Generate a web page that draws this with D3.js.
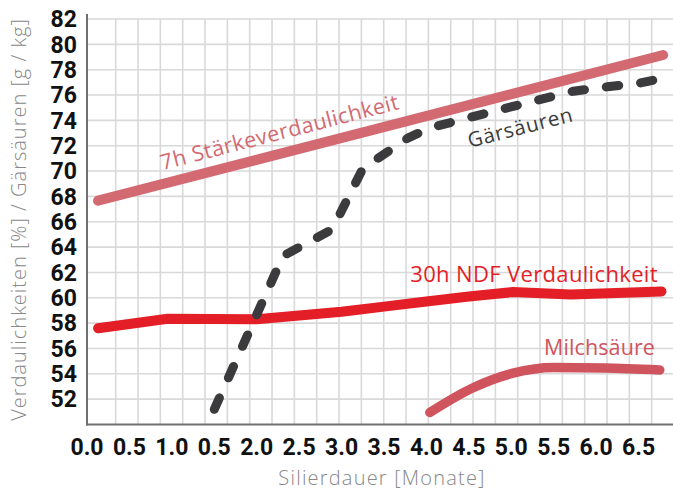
<!DOCTYPE html>
<html>
<head>
<meta charset="utf-8">
<script src="https://cdn.jsdelivr.net/npm/d3@7"></script>
<style>
  html, body { margin: 0; padding: 0; background: #fff; }
  svg { display: block; }
</style>
</head>
<body>
<svg id="chart" width="673" height="490"></svg>
<script>
// ---------- data ----------
const xTickValues = [0, 0.5, 1, 1.5, 2, 2.5, 3, 3.5, 4, 4.5, 5, 5.5, 6, 6.5];
const xTickLabels = ["0.0", "0.5", "1.0", "0.5", "2.0", "2.5", "3.0", "3.5", "4.0", "4.5", "5.0", "5.5", "6.0", "6.5"];
const yTickValues = [52, 54, 56, 58, 60, 62, 64, 66, 68, 70, 72, 74, 76, 78, 80, 82];

const seriesNames = ["7h Stärkeverdaulichkeit", "Gärsäuren", "30h NDF Verdaulichkeit", "Milchsäure"];

// [Silierdauer (Monate), Wert]
const staerke = [[0.13, 67.66], [6.79, 79.16]];
const gaersaeuren = [
  [1.50, 51.2], [2.31, 63.3], [2.89, 65.4], [3.25, 70.2], [3.78, 72.6], [4.04, 73.4],
  [4.55, 74.3], [5.02, 75.1], [5.37, 75.7], [5.73, 76.3], [6.13, 76.65], [6.52, 76.95], [6.80, 77.35]
];
const ndf = [
  [0.13, 57.6], [0.95, 58.35], [2.0, 58.3], [2.5, 58.6], [3.0, 58.9], [3.5, 59.3],
  [4.0, 59.7], [4.5, 60.1], [5.02, 60.45], [5.7, 60.25], [6.77, 60.5]
];
const milchsaeure = [[4.04, 50.95], [4.55, 52.9], [5.02, 54.05], [5.5, 54.5], [6.1, 54.45], [6.75, 54.3]];

(function () {
// ---------- layout ----------
const svg = d3.select("#chart");
const mLeft = 87, mRight = 673, mTop = 19, mBottom = 424.5;

const x = d3.scaleLinear().domain([0, 6.906]).range([mLeft, mRight]);
const y = d3.scaleLinear().domain([50, 82]).range([mBottom, mTop]);

// decorative vertical grid (independent of the x ticks, as in the reference)
const gridCols = d3.scaleLinear().domain([0, 24]).range([115.7, 651.7]);

const g = svg.append("g");

// grid
g.append("g").selectAll("line").data(d3.range(25)).join("line")
  .attr("x1", d => gridCols(d)).attr("x2", d => gridCols(d))
  .attr("y1", mTop).attr("y2", mBottom)
  .attr("stroke", "#d9d9d9").attr("stroke-width", 1.6);
g.append("g").selectAll("line").data(yTickValues).join("line")
  .attr("x1", mLeft).attr("x2", mRight)
  .attr("y1", d => y(d)).attr("y2", d => y(d))
  .attr("stroke", "#d9d9d9").attr("stroke-width", 1.6);

// axes lines
g.append("line").attr("x1", mLeft).attr("x2", mLeft).attr("y1", 14).attr("y2", mBottom + 1)
  .attr("stroke", "#707070").attr("stroke-width", 2);
g.append("line").attr("x1", mLeft - 1).attr("x2", mRight).attr("y1", mBottom).attr("y2", mBottom)
  .attr("stroke", "#707070").attr("stroke-width", 2);

// tick labels
const tickFont = "Roboto, 'DejaVu Sans', sans-serif";
g.append("g").selectAll("text").data(yTickValues).join("text")
  .attr("x", 77).attr("y", d => y(d)).attr("dy", "0.36em")
  .attr("text-anchor", "end")
  .attr("font-family", tickFont).attr("font-weight", 700).attr("font-size", 23)
  .attr("fill", "#111")
  .text(d => d);
g.append("g").selectAll("text").data(xTickValues).join("text")
  .attr("x", d => x(d)).attr("y", 455)
  .attr("text-anchor", "middle")
  .attr("font-family", tickFont).attr("font-weight", 700).attr("font-size", 23)
  .attr("fill", "#111")
  .text((d, i) => xTickLabels[i]);

// axis titles
const titleFont = "'Open Sans', Roboto, sans-serif";
svg.append("text")
  .attr("x", (mLeft + mRight) / 2 + 2).attr("y", 484.5)
  .attr("text-anchor", "middle")
  .attr("font-family", titleFont).attr("font-weight", 300).attr("font-size", 20)
  .attr("letter-spacing", 1.2)
  .attr("fill", "#888")
  .text("Silierdauer [Monate]");
svg.append("text")
  .attr("transform", `translate(26, ${(12 + 427) / 2}) rotate(-90)`)
  .attr("text-anchor", "middle")
  .attr("font-family", titleFont).attr("font-weight", 300).attr("font-size", 20)
  .attr("letter-spacing", 1.0)
  .attr("fill", "#888")
  .text("Verdaulichkeiten [%] / Gärsäuren [g / kg]");

// lines
const line = d3.line().x(d => x(d[0])).y(d => y(d[1]));
const smooth = d3.line().x(d => x(d[0])).y(d => y(d[1])).curve(d3.curveMonotoneX);

g.append("path").datum(staerke).attr("d", line)
  .attr("fill", "none").attr("stroke", "#d36a72").attr("stroke-width", 10)
  .attr("stroke-linecap", "round");

g.append("path").datum(ndf).attr("d", line)
  .attr("fill", "none").attr("stroke", "#e31e26").attr("stroke-width", 10)
  .attr("stroke-linecap", "round").attr("stroke-linejoin", "round");

g.append("path").datum(milchsaeure).attr("d", smooth)
  .attr("fill", "none").attr("stroke", "#d0545e").attr("stroke-width", 9.5)
  .attr("stroke-linecap", "round");

g.append("path").datum(gaersaeuren).attr("d", line)
  .attr("fill", "none").attr("stroke", "#3b3b3d").attr("stroke-width", 9)
  .attr("stroke-linecap", "round").attr("stroke-linejoin", "round")
  .attr("stroke-dasharray", "12.5 22");

// series labels
const labelFont = "'Open Sans', Roboto, sans-serif";
const ang = Math.atan2(y(staerke[1][1]) - y(staerke[0][1]), x(staerke[1][0]) - x(staerke[0][0])) * 180 / Math.PI;
const sx = 0.93;
const sy = staerke[0][1] + (staerke[1][1] - staerke[0][1]) * (sx - staerke[0][0]) / (staerke[1][0] - staerke[0][0]);

svg.append("text")
  .attr("transform", `translate(${x(sx)}, ${y(sy)}) rotate(${ang})`)
  .attr("y", -13.5)
  .attr("font-family", labelFont).attr("font-weight", 400).attr("font-size", 21.5)
  .attr("letter-spacing", 0.45)
  .attr("fill", "#d36a72")
  .text(seriesNames[0]);

svg.append("text")
  .attr("transform", `translate(${x(4.51)}, ${y(71.83)}) rotate(${ang})`)
  .attr("font-family", labelFont).attr("font-weight", 400).attr("font-size", 20.5)
  .attr("letter-spacing", 0.8)
  .attr("fill", "#3b3b3d")
  .text(seriesNames[1]);

svg.append("text")
  .attr("x", x(6.729)).attr("y", y(61.25))
  .attr("text-anchor", "end")
  .attr("font-family", labelFont).attr("font-weight", 400).attr("font-size", 22)
  .attr("letter-spacing", 0.35)
  .attr("fill", "#e31e26")
  .text(seriesNames[2]);

svg.append("text")
  .attr("x", x(6.694)).attr("y", y(55.52))
  .attr("text-anchor", "end")
  .attr("font-family", labelFont).attr("font-weight", 400).attr("font-size", 21.5)
  .attr("letter-spacing", 0.1)
  .attr("fill", "#d0545e")
  .text(seriesNames[3]);
})();
</script>
</body>
</html>
